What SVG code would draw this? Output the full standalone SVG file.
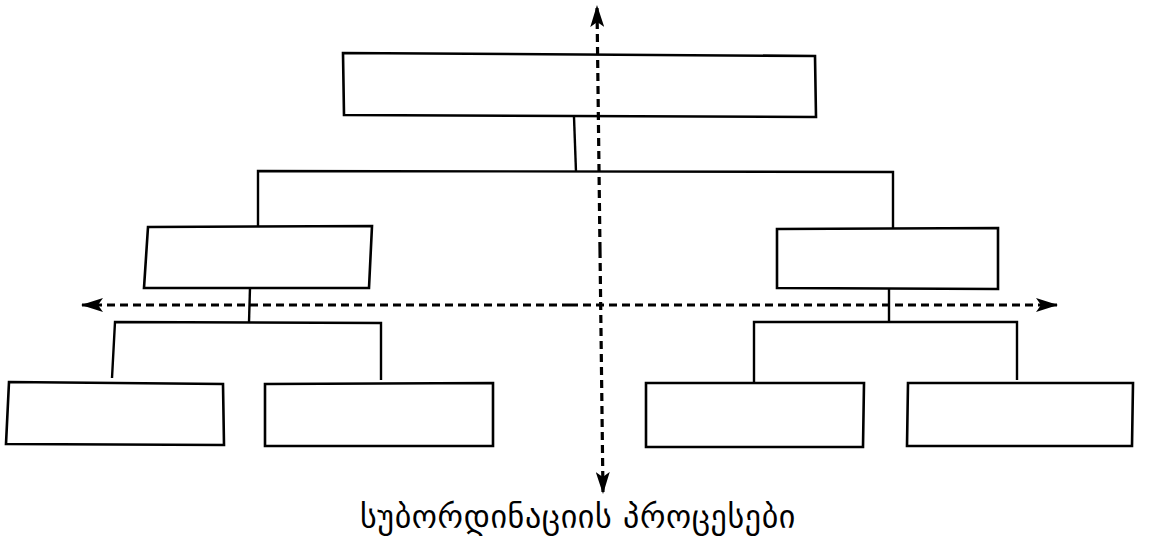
<svg xmlns="http://www.w3.org/2000/svg" width="1155" height="552" viewBox="0 0 1155 552">
  <style>
    .box { fill: #fff; stroke: #000; stroke-width: 2.6; stroke-linejoin: miter; }
    .link { fill: none; stroke: #000; stroke-width: 2.4; }
    .axis { fill: none; stroke: #000; stroke-width: 3.2; stroke-dasharray: 8 5; }
    .caption { font-family: "DejaVu Sans", "Noto Sans", sans-serif; font-size: 32px; letter-spacing: 0.6px; fill: #000; }
  </style>
  <defs>
    <marker id="head" viewBox="0 0 22 14" refX="21" refY="7" markerWidth="22" markerHeight="14" markerUnits="userSpaceOnUse" orient="auto">
      <path d="M0,0 L22,7 L0,14 L5,7 Z" fill="#000"/>
    </marker>
  </defs>
  <rect width="1155" height="552" fill="#fff"/>

  <!-- tree connectors -->
  <g id="connectors">
    <path class="link" d="M574,117 L576,172"/>
    <path class="link" d="M258,226 L258,171 L893,172 L893,228"/>
    <path class="link" d="M250,288 L249,322"/>
    <path class="link" d="M112,378 L115,322 L381,323 L381,380"/>
    <path class="link" d="M889,288 L889,322"/>
    <path class="link" d="M754,382 L754,322 L1017,322 L1017,380"/>
  </g>

  <!-- nodes -->
  <g id="root"><path class="box" d="M343,53 L815,56 L816,117 L344,115 Z"/></g>
  <g id="mid-left"><path class="box" d="M148,227 L372,226 L369,288 L144,288 Z"/></g>
  <g id="mid-right"><path class="box" d="M777,229 L998,228 L998,289 L777,288 Z"/></g>
  <g id="leaf-1"><path class="box" d="M9,382 L223,384 L224,445 L6,444 Z"/></g>
  <g id="leaf-2"><path class="box" d="M265,384 L493,383 L493,446 L265,446 Z"/></g>
  <g id="leaf-3"><path class="box" d="M646,383 L864,383 L863,447 L646,447 Z"/></g>
  <g id="leaf-4"><path class="box" d="M908,383 L1133,383 L1132,446 L907,446 Z"/></g>

  <!-- dashed axes -->
  <g id="axes">
    <path class="axis" d="M600,250 L597,6" marker-end="url(#head)"/>
    <path class="axis" d="M600,250 L603,493" marker-end="url(#head)"/>
    <path class="axis" d="M570,305 L82,305" marker-end="url(#head)"/>
    <path class="axis" d="M570,305 L1057,305" marker-end="url(#head)"/>
  </g>

  <g id="caption">
    <text class="caption" x="578" y="528" text-anchor="middle">სუბორდინაციის პროცესები</text>
  </g>
</svg>
